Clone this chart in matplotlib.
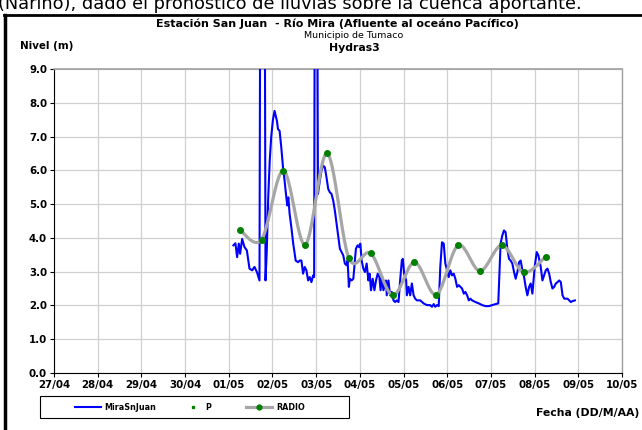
import numpy as np
import matplotlib
matplotlib.use('Agg')
import matplotlib.pyplot as plt
from matplotlib.lines import Line2D
from matplotlib.patches import Rectangle

plt.rcParams['font.family'] = ['DejaVu Sans']

# time in days since 27/04 00:00
mira_t = [4.106, 4.152, 4.191, 4.230, 4.260, 4.306, 4.359, 4.414, 4.474, 4.536, 4.589, 4.644, 4.703,
          4.726, 4.818, 4.841, 4.869, 4.903, 4.938, 4.972, 5.011, 5.048, 5.103, 5.126, 5.163, 5.202,
          5.241, 5.278, 5.317, 5.340, 5.363, 5.393, 5.432, 5.471, 5.531, 5.586, 5.623, 5.662, 5.701,
          5.738, 5.777, 5.816, 5.853, 5.892, 5.931, 5.954, 5.972, 6.018, 6.041, 6.083, 6.122, 6.161,
          6.198, 6.237, 6.276, 6.313, 6.352, 6.391, 6.428, 6.467, 6.506, 6.543, 6.582, 6.621, 6.657,
          6.697, 6.720, 6.749, 6.772, 6.811, 6.851, 6.887, 6.910, 6.949, 6.979, 7.011, 7.041, 7.080,
          7.117, 7.156, 7.195, 7.225, 7.255, 7.294, 7.333, 7.370, 7.409, 7.448, 7.474, 7.501, 7.540,
          7.577, 7.600, 7.616, 7.655, 7.692, 7.731, 7.770, 7.807, 7.846, 7.885, 7.922, 7.961, 7.984,
          8.014, 8.060, 8.076, 8.115, 8.152, 8.191, 8.230, 8.267, 8.306, 8.382, 8.460, 8.536, 8.611,
          8.651, 8.690, 8.726, 8.766, 8.805, 8.841, 8.880, 8.920, 8.957, 8.996, 9.034, 9.071, 9.110,
          9.149, 9.186, 9.225, 9.264, 9.301, 9.340, 9.379, 9.416, 9.455, 9.494, 9.531, 9.570, 9.646,
          9.724, 9.800, 9.876, 9.954, 10.030, 10.106, 10.168, 10.221, 10.260, 10.299, 10.336, 10.375,
          10.414, 10.451, 10.490, 10.529, 10.566, 10.605, 10.644, 10.681, 10.720, 10.759, 10.795,
          10.834, 10.874, 10.910, 10.949, 11.002, 11.048, 11.087, 11.140, 11.179, 11.218, 11.255,
          11.294, 11.333, 11.370, 11.409, 11.448, 11.485, 11.524, 11.563, 11.600, 11.639, 11.678,
          11.754, 11.793, 11.830, 11.869, 11.922]
mira_h = [3.78, 3.84, 3.43, 3.83, 3.53, 3.97, 3.73, 3.63, 3.09, 3.04, 3.14, 2.99, 2.74,
          15.0, 15.0, 2.74, 3.60, 5.20, 6.30, 7.00, 7.50, 7.76, 7.46, 7.22, 7.17, 6.68,
          6.09, 5.69, 5.20, 4.96, 5.20, 4.71, 4.32, 3.87, 3.33, 3.28, 3.33, 3.33, 2.94,
          3.14, 3.04, 2.74, 2.84, 2.69, 2.89, 2.84, 15.0, 15.0, 5.30, 5.69, 5.99, 6.14,
          6.09, 5.79, 5.45, 5.35, 5.30, 5.10, 4.81, 4.42, 4.02, 3.68, 3.58, 3.48, 3.24,
          3.19, 3.33, 2.55, 2.79, 2.74, 2.79, 3.33, 3.68, 3.78, 3.73, 3.83, 3.33, 3.09,
          2.99, 3.24, 2.74, 2.94, 2.45, 2.79, 2.45, 2.74, 2.94, 2.84, 2.45, 2.84, 2.45,
          2.65, 2.74, 2.30, 2.74, 2.30, 2.40, 2.15, 2.10, 2.15, 2.10, 2.74, 3.33, 3.38,
          2.94, 2.74, 2.30, 2.55, 2.30, 2.65, 2.30, 2.20, 2.15, 2.15, 2.06, 2.01, 2.01,
          1.96, 2.04, 1.96, 2.01, 1.98, 3.14, 3.87, 3.83, 3.24, 3.04, 2.84, 3.04, 2.89,
          2.94, 2.79, 2.55, 2.60, 2.55, 2.50, 2.35, 2.40, 2.30, 2.15, 2.20, 2.15, 2.10,
          2.06, 2.01, 1.98, 1.98, 2.01, 2.04, 2.06, 3.83, 4.07, 4.22, 4.17, 3.68,
          3.38, 3.33, 3.24, 2.99, 2.79, 2.99, 3.28, 3.33, 3.04, 2.84, 2.55,
          2.30, 2.55, 2.65, 2.35, 3.14, 3.58, 3.48, 3.14, 2.74, 2.89, 3.04,
          3.09, 2.94, 2.69, 2.50, 2.55, 2.65, 2.69, 2.74, 2.69, 2.30, 2.20,
          2.20, 2.15, 2.10, 2.13, 2.15]

radio_t = [4.25, 4.75, 5.25, 5.75, 6.25, 6.75, 7.25, 7.75, 8.25, 8.75, 9.25, 9.75, 10.25, 10.75, 11.25]
radio_h = [4.24, 3.95, 5.99, 3.80, 6.50, 3.40, 3.54, 2.30, 3.28, 2.32, 3.78, 3.02, 3.78, 2.98, 3.44]

day_labels = ['27/04', '28/04', '29/04', '30/04', '01/05', '02/05', '03/05',
              '04/05', '05/05', '06/05', '07/05', '08/05', '09/05', '10/05']
y_ticks = [0, 1, 2, 3, 4, 5, 6, 7, 8, 9]
series_names = ['MiraSnJuan', 'P', 'RADIO']


def smooth(xs, ys, n=24):
    # bezier smoothing like the spreadsheet "smoothed line"
    p = np.column_stack([xs, ys])
    p = np.vstack([p[0], p, p[-1]])
    out = []
    t = np.linspace(0, 1, n)[:, None]
    for i in range(1, len(p) - 2):
        p0, p1, p2, p3 = p[i - 1], p[i], p[i + 1], p[i + 2]
        c1 = p1 + (p2 - p0) / 6
        c2 = p2 - (p3 - p1) / 6
        b = (1 - t) ** 3 * p1 + 3 * (1 - t) ** 2 * t * c1 + 3 * (1 - t) * t ** 2 * c2 + t ** 3 * p2
        out.append(b)
    return np.vstack(out)


def fx(px):
    return px / 642


def fy(py):
    return 1 - py / 430


fig = plt.figure(figsize=(6.42, 4.30), dpi=100)
ax = fig.add_axes([fx(54), fy(373), 568 / 642, 304 / 430])

ax.plot(mira_t, mira_h, color='#0000FF', linewidth=1.5, zorder=3)
sm = smooth(radio_t, radio_h)
ax.plot(sm[:, 0], sm[:, 1], color='#A6A6A6', linewidth=2.3, zorder=4, solid_capstyle='round')
ax.plot(radio_t, radio_h, linestyle='none', marker='o', markersize=4,
        markerfacecolor='#008000', markeredgecolor='#008000', zorder=5)

ax.set_xlim(0, 13)
ax.set_ylim(0, 9)
ax.set_xticks(range(len(day_labels)))
ax.set_xticklabels(day_labels)
ax.set_yticks(y_ticks)
ax.set_yticklabels(['%.1f' % v for v in y_ticks])
ax.grid(True, color='#D0D0D0', linewidth=0.9)
ax.set_axisbelow(True)
for lab in ax.get_xticklabels() + ax.get_yticklabels():
    lab.set_fontweight('bold')
    lab.set_fontsize(7.4)
ax.tick_params(axis='both', direction='out', length=3, width=0.8, color='black', pad=2)
ax.spines['left'].set_color('black')
ax.spines['bottom'].set_color('black')
ax.spines['top'].set_color('#A0A0A0')
ax.spines['right'].set_color('#A0A0A0')
ax.spines['top'].set_linewidth(1.2)
ax.spines['right'].set_linewidth(1.0)

fig.text(fx(337), fy(24), 'Estación San Juan  - Río Mira (Afluente al oceáno Pacífico)',
         ha='center', va='center', fontsize=8, fontweight='bold')
fig.text(fx(354), fy(36), 'Municipio de Tumaco', ha='center', va='center', fontsize=6.8)
fig.text(fx(354), fy(48), 'Hydras3', ha='center', va='center', fontsize=7.8, fontweight='bold')
fig.text(fx(20), fy(46), 'Nivel (m)', ha='left', va='center', fontsize=7.4, fontweight='bold')
fig.text(fx(639), fy(413), 'Fecha (DD/M/AA)', ha='right', va='center', fontsize=7.8, fontweight='bold')

# cropped paragraph text above the chart frame
fig.text(fx(-2), fy(9), '(Nariño), dado el pronóstico de lluvias sobre la cuenca aportante.',
         ha='left', va='baseline', fontsize=12.8)
fig.add_artist(Line2D([fx(4), 1], [fy(15), fy(15)], color='black', linewidth=2,
                      transform=fig.transFigure))
fig.add_artist(Line2D([fx(5), fx(5)], [fy(15), 0], color='black', linewidth=2.5,
                      transform=fig.transFigure))

# legend box drawn by hand, entries in one row
fig.add_artist(Rectangle((fx(40), fy(418)), 309 / 642, 22 / 430, transform=fig.transFigure,
                         facecolor='white', edgecolor='black', linewidth=0.8))
ly = fy(407)
fig.add_artist(Line2D([fx(75), fx(101)], [ly, ly], color='#0000FF', linewidth=1.5,
                      transform=fig.transFigure))
fig.add_artist(Line2D([fx(193)], [ly], linestyle='none', marker='s', markersize=2,
                      color='#008000', transform=fig.transFigure))
fig.add_artist(Line2D([fx(246), fx(272)], [ly, ly], color='#A6A6A6', linewidth=2.3,
                      transform=fig.transFigure))
fig.add_artist(Line2D([fx(259)], [ly], linestyle='none', marker='o', markersize=3.5,
                      color='#008000', transform=fig.transFigure))
for px, name in zip([104, 205, 276], series_names):
    fig.text(fx(px), ly, name, ha='left', va='center', fontsize=5.8, fontweight='bold')

plt.savefig('out.png', dpi=100)
plt.close()
